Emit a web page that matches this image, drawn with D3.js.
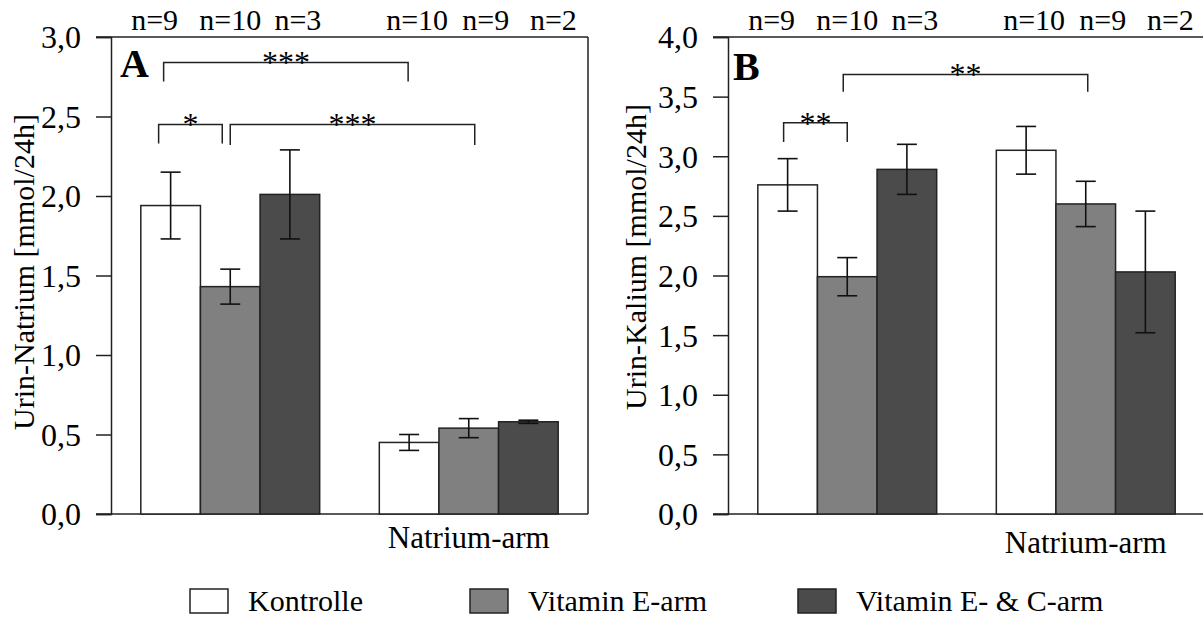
<!DOCTYPE html>
<html>
<head>
<meta charset="utf-8">
<script src="https://cdn.jsdelivr.net/npm/d3@7"></script>
<style>
  html, body { margin: 0; padding: 0; background: #fff; }
  svg { display: block; }
</style>
</head>
<body>
<svg id="chart" width="1203" height="617"></svg>
<script>
// ---------- data ----------
const categories = ["", "Natrium-arm"];
const series = ["Kontrolle", "Vitamin E-arm", "Vitamin E- & C-arm"];
const seriesColors = ["#ffffff", "#808080", "#4b4b4b"];

const natriumMean = [[1.94, 1.43, 2.01], [0.45, 0.54, 0.58]];
const natriumSem  = [[0.21, 0.11, 0.28], [0.05, 0.06, 0.01]];
const kaliumMean  = [[2.76, 1.99, 2.89], [3.05, 2.60, 2.03]];
const kaliumSem   = [[0.22, 0.16, 0.21], [0.20, 0.19, 0.51]];

const nLabels = [["n=9", "n=10", "n=3"], ["n=10", "n=9", "n=2"]];

const natriumTicks = [0, 0.5, 1.0, 1.5, 2.0, 2.5, 3.0];
const kaliumTicks  = [0, 0.5, 1.0, 1.5, 2.0, 2.5, 3.0, 3.5, 4.0];

// brackets: from/to = [groupIndex, seriesIndex], y = bracket level, leg = leg end level
const natriumBrackets = [
  { from: [0, 0], to: [1, 0], y: 2.84, leg: 2.72, label: "***" },
  { from: [0, 0], to: [0, 1], y: 2.45, leg: 2.33, label: "*" },
  { from: [0, 1], to: [1, 1], y: 2.45, leg: 2.32, label: "***" }
];
const kaliumBrackets = [
  { from: [0, 0], to: [0, 1], y: 3.28, leg: 3.12, label: "**" },
  { from: [0, 1], to: [1, 1], y: 3.686, leg: 3.54, label: "**" }
];

// ---------- layout (styles / positions) ----------
const FONT = "Liberation Serif";
const panels = [
  { x0: 111, x1: 588, yTop: 37, yBot: 514, max: 3, mean: natriumMean, sem: natriumSem,
    ticks: natriumTicks, brackets: natriumBrackets, bracketDx: [[-7, -1], [-12, -8], [0, 6]],
    title: "Urin-Natrium [mmol/24h]", letter: "A", catY: 548, titleX: 34, titleY: 272 },
  { x0: 728, x1: 1205, yTop: 37, yBot: 514, max: 4, mean: kaliumMean, sem: kaliumSem,
    ticks: kaliumTicks, brackets: kaliumBrackets, bracketDx: [[-4, 0], [-4, 2]],
    title: "Urin-Kalium [mmol/24h]", letter: "B", catY: 553, titleX: 646, titleY: 257 }
];
const nDx = [-16, 0, 8, 8, 17, 25];

const svg = d3.select("#chart");
const fmt = v => d3.format(".1f")(v).replace(".", ",");
const txt = (sel, size) => sel.attr("font-family", FONT).style("font-family", FONT)
  .style("font-size", size + "px").attr("fill", "#000");

panels.forEach(p => {
  const g = svg.append("g");
  const y = d3.scaleLinear().domain([0, p.max]).range([p.yBot, p.yTop]);
  const x = d3.scaleBand().domain(categories.map((c, i) => i)).range([p.x0, p.x1])
              .paddingInner(0.25).paddingOuter(0.125);
  const xs = d3.scaleBand().domain(series.map((s, i) => i)).range([0, x.bandwidth()]).padding(0);
  const cx = (gi, si) => x(gi) + xs(si) + xs.bandwidth() / 2;

  // y axis
  const yAxis = d3.axisLeft(y).tickValues(p.ticks).tickFormat(fmt).tickSize(15).tickPadding(15);
  const ga = g.append("g").attr("transform", `translate(${p.x0},0)`).call(yAxis)
    .attr("font-family", FONT);
  ga.select(".domain").attr("stroke", "#222").attr("stroke-width", 1.5);
  ga.selectAll(".tick line").attr("stroke", "#222").attr("stroke-width", 1.5);
  txt(ga.selectAll(".tick text"), 32).attr("dy", "0.34em");

  // frame: top, right, bottom
  g.append("line").attr("x1", p.x0 - 15).attr("x2", p.x1).attr("y1", y(p.max)).attr("y2", y(p.max))
    .attr("stroke", "#222").attr("stroke-width", 1.5);
  g.append("line").attr("x1", p.x1).attr("x2", p.x1).attr("y1", y(p.max)).attr("y2", y(0))
    .attr("stroke", "#222").attr("stroke-width", 1.5);
  g.append("line").attr("x1", p.x0 - 15).attr("x2", p.x1).attr("y1", y(0)).attr("y2", y(0))
    .attr("stroke", "#222").attr("stroke-width", 1.5);

  // bars
  p.mean.forEach((vals, gi) => {
    vals.forEach((v, si) => {
      g.append("rect")
        .attr("x", x(gi) + xs(si)).attr("width", xs.bandwidth())
        .attr("y", y(v)).attr("height", y(0) - y(v))
        .attr("fill", seriesColors[si]).attr("stroke", "#222").attr("stroke-width", 1.5);
    });
  });
  // error bars
  p.mean.forEach((vals, gi) => {
    vals.forEach((v, si) => {
      const e = p.sem[gi][si];
      const c = cx(gi, si);
      const eg = g.append("g").attr("stroke", "#111").attr("stroke-width", 1.6);
      eg.append("line").attr("x1", c).attr("x2", c).attr("y1", y(v + e)).attr("y2", y(v - e));
      eg.append("line").attr("x1", c - 10).attr("x2", c + 10).attr("y1", y(v + e)).attr("y2", y(v + e));
      eg.append("line").attr("x1", c - 10).attr("x2", c + 10).attr("y1", y(v - e)).attr("y2", y(v - e));
    });
  });

  // category label
  categories.forEach((c, gi) => {
    if (!c) return;
    txt(g.append("text").attr("x", x(gi) + x.bandwidth() / 2).attr("y", p.catY)
      .attr("text-anchor", "middle"), 31).text(c);
  });

  // n labels
  let k = 0;
  nLabels.forEach((row, gi) => row.forEach((t, si) => {
    txt(g.append("text").attr("x", cx(gi, si) + nDx[k++]).attr("y", 30)
      .attr("text-anchor", "middle"), 30).text(t);
  }));

  // brackets
  p.brackets.forEach((b, bi) => {
    const xa = cx(b.from[0], b.from[1]) + p.bracketDx[bi][0];
    const xb = cx(b.to[0], b.to[1]) + p.bracketDx[bi][1];
    g.append("path")
      .attr("d", `M${xa},${y(b.leg)}V${y(b.y)}H${xb}V${y(b.leg)}`)
      .attr("fill", "none").attr("stroke", "#222").attr("stroke-width", 1.5);
    txt(g.append("text").attr("x", (xa + xb) / 2).attr("y", y(b.y) + 11)
      .attr("text-anchor", "middle"), 32).text(b.label);
  });

  // panel letter
  txt(g.append("text").attr("x", p.x0 + (p.letter === "A" ? 9 : 5)).attr("y", p.letter === "A" ? 77 : 80), 40)
    .style("font-weight", "bold").text(p.letter);

  // y title
  txt(g.append("text").attr("transform", `translate(${p.titleX},${p.titleY}) rotate(-90)`)
    .attr("text-anchor", "middle"), 30).text(p.title);
});

// legend
const legendX = [190, 470, 798];
const lg = svg.append("g");
series.forEach((s, i) => {
  lg.append("rect").attr("x", legendX[i]).attr("y", 589).attr("width", 38).attr("height", 24)
    .attr("fill", seriesColors[i]).attr("stroke", "#222").attr("stroke-width", 1.5);
  txt(lg.append("text").attr("x", legendX[i] + 58).attr("y", 611), 30).text(s);
});
</script>
</body>
</html>
